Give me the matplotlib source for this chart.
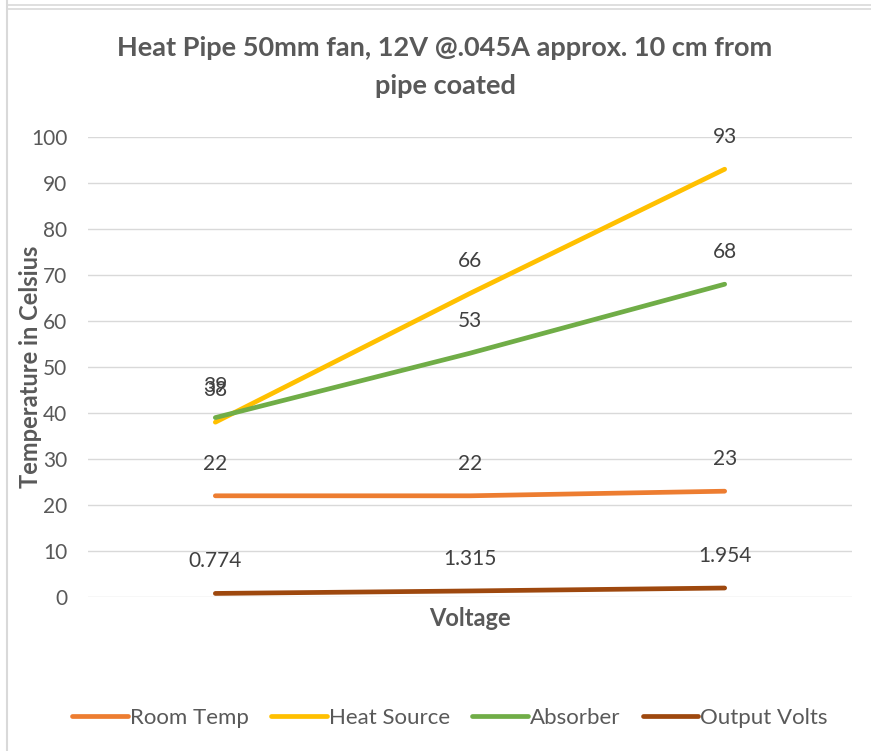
import matplotlib.pyplot as plt
from matplotlib.lines import Line2D

# -----------------------------
# Data
# -----------------------------
categories = ["", "", ""]
room_temp = [22, 22, 23]
heat_source = [38, 66, 93]
absorber = [39, 53, 68]
output_volts = [0.774, 1.315, 1.954]
volt_labels = ["0.774", "1.315", "1.954"]

series = [
    ("Room Temp", room_temp, "#ED7D31", None),
    ("Heat Source", heat_source, "#FFC000", None),
    ("Absorber", absorber, "#70AD47", None),
    ("Output Volts", output_volts, "#9E480E", volt_labels),
]

plt.rcParams['font.family'] = ['Lato', 'DejaVu Sans']

W, H = 871, 751
fig = plt.figure(figsize=(W / 100, H / 100), dpi=100)
ax = fig.add_axes([88 / W, 1 - 597 / H, (852 - 88) / W, (597 - 137) / H])

# frame lines around the chart box
fig.add_artist(Line2D([6.5 / W, 6.5 / W], [0, 1], color="#d9d9d9", lw=1.5))
fig.add_artist(Line2D([6.5 / W, 1], [1 - 5 / H, 1 - 5 / H], color="#d9d9d9", lw=1.2))
fig.add_artist(Line2D([6.5 / W, 1], [1 - 8.5 / H, 1 - 8.5 / H], color="#d9d9d9", lw=1.2))

x = list(range(len(categories)))
for name, vals, color, labels in series:
    ax.plot(x, vals, color=color, lw=3.4, label=name, solid_capstyle="round")
    for i, v in enumerate(vals):
        txt = labels[i] if labels else f"{v:g}"
        ax.annotate(txt, (i, v), xytext=(0, 23), textcoords="offset points",
                    ha="center", va="center", fontsize=15, color="#404040")

ax.set_xlim(-0.5, 2.5)
ax.set_ylim(0, 100)
ax.set_yticks(range(0, 101, 10))
ax.set_xticks(x)
ax.set_xticklabels(categories)
ax.tick_params(axis="both", length=0, labelsize=15, labelcolor="#595959")
ax.tick_params(axis="y", pad=15)
ax.grid(axis="y", color="#d9d9d9", lw=1)
ax.set_axisbelow(True)
for s in ax.spines.values():
    s.set_visible(False)

ax.set_ylabel("Temperature in Celsius", fontsize=17, fontweight="bold",
              color="#595959")
ax.yaxis.set_label_coords(-46 / 764, 0.5)
ax.set_xlabel("Voltage", fontsize=17, fontweight="bold", color="#595959")
ax.xaxis.set_label_coords(0.5, -10 / 460)

fig.text(445 / W, 1 - 67 / H,
         "Heat Pipe 50mm fan, 12V @.045A approx. 10 cm from\npipe coated",
         ha="center", va="center", fontsize=19.5, fontweight="bold",
         color="#595959", linespacing=1.7)

fig.legend(loc="center", bbox_to_anchor=(450 / W, 1 - 718 / H), ncol=4,
           frameon=False, fontsize=16, labelcolor="#595959",
           handlelength=2.5, handletextpad=0.1, columnspacing=1.0)

fig.savefig("out.png", dpi=100)
